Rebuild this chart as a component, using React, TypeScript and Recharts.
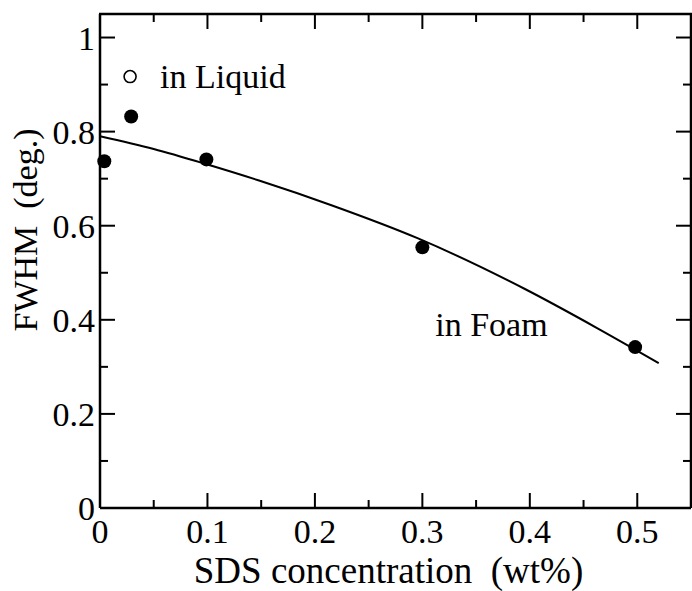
import React from 'react';
import { ComposedChart, Line, Scatter, XAxis, YAxis, ReferenceDot } from 'recharts';

const FONT = "'Liberation Serif', 'Times New Roman', Times, serif";

// axis ticks (minor + labelled)
const X_TICKS = [0, 0.05, 0.1, 0.15, 0.2, 0.25, 0.3, 0.35, 0.4, 0.45, 0.5];
const X_LABELED = [0, 0.1, 0.2, 0.3, 0.4, 0.5];
const Y_TICKS = [0, 0.1, 0.2, 0.3, 0.4, 0.5, 0.6, 0.7, 0.8, 0.9, 1];
const Y_LABELED = [0, 0.2, 0.4, 0.6, 0.8, 1];
const X_MAX = 0.55;
const Y_MAX = 1.05;

// measured points, in foam (filled)
const FOAM_SDS = [0.004, 0.029, 0.099, 0.3, 0.498];
const FOAM_FWHM = [0.737, 0.832, 0.741, 0.554, 0.342];

// in liquid (open marker)
const LIQUID_SDS = [0.028];
const LIQUID_FWHM = [0.917];

// fitted curve
const FIT_SDS = [0, 0.05, 0.1, 0.148, 0.216, 0.296, 0.395, 0.463, 0.52];
const FIT_FWHM = [0.79, 0.763, 0.73, 0.696, 0.643, 0.573, 0.466, 0.382, 0.308];

const FOAM_LABEL = { x: 0.312, y: 0.39, text: 'in Foam' };

const foamData = FOAM_SDS.map((x, i) => ({ x, y: FOAM_FWHM[i] }));
const liquidData = LIQUID_SDS.map((x, i) => ({ x, y: LIQUID_FWHM[i] }));
const fitData = FIT_SDS.map((x, i) => ({ x, y: FIT_FWHM[i] }));

// chart box
const W = 692;
const H = 591;
const TOP = 14;
const LEFT_W = 100;
const RIGHT_W = 1;
const BOTTOM_H = 83;
const PLOT_W = W - LEFT_W - RIGHT_W;
const PLOT_H = H - TOP - BOTTOM_H;

const txt = { fontFamily: FONT, whiteSpace: 'pre' as const };

const isIn = (list: number[], v: number) => list.some(m => Math.abs(m - v) < 1e-9);

// bottom ticks also draw the matching stub on the top frame
const BottomTick = (props: any) => {
  const { x, y, payload } = props;
  const major = isIn(X_LABELED, payload.value);
  const len = major ? 15 : 8;
  return (
    <g>
      <line x1={x} y1={y} x2={x} y2={y - len} stroke="#000" strokeWidth={2} />
      <line x1={x} y1={y - PLOT_H} x2={x} y2={y - PLOT_H + len} stroke="#000" strokeWidth={2} />
      {major && (
        <text x={x} y={y + 35} textAnchor="middle" style={txt} fontSize={34} fill="#000">
          {payload.value}
        </text>
      )}
    </g>
  );
};

const LeftTick = (props: any) => {
  const { x, y, payload } = props;
  const major = isIn(Y_LABELED, payload.value);
  return (
    <g>
      <line x1={x} y1={y} x2={x + (major ? 15 : 8)} y2={y} stroke="#000" strokeWidth={2} />
      {major && (
        <text x={x - 5} y={y + 12} textAnchor="end" style={txt} fontSize={34} fill="#000">
          {payload.value}
        </text>
      )}
    </g>
  );
};

const RightTick = (props: any) => {
  const { x, y, payload } = props;
  const major = isIn(Y_LABELED, payload.value);
  return <line x1={x} y1={y} x2={x - (major ? 15 : 8)} y2={y} stroke="#000" strokeWidth={2} />;
};

const XTitle = (props: any) => {
  const vb = props.viewBox;
  return (
    <text
      x={vb.x + vb.width / 2 - 7}
      y={vb.y + 75}
      textAnchor="middle"
      style={txt}
      fontSize={37}
      fill="#000"
    >
      SDS concentration  (wt%)
    </text>
  );
};

// y title, plus the top frame line along the plot's upper edge
const YTitle = (props: any) => {
  const vb = props.viewBox || { x: 0, y: TOP, width: LEFT_W };
  const left = vb.x + vb.width;
  return (
    <g>
      <line x1={left - 1} y1={vb.y} x2={left + PLOT_W + 1} y2={vb.y} stroke="#000" strokeWidth={2.5} />
      <text
        x={37}
        y={230}
        transform="rotate(-90 37 230)"
        textAnchor="middle"
        style={txt}
        fontSize={34}
        fill="#000"
      >
        FWHM  (deg.)
      </text>
    </g>
  );
};

const FilledDot = (p: any) => <circle cx={p.cx} cy={p.cy} r={7} fill="#000" />;
const NoDot = () => <g />;

const OpenDot = (p: any) => (
  <g>
    <circle cx={p.cx} cy={p.cy} r={6} fill="#fff" stroke="#000" strokeWidth={1.6} />
    <text x={p.cx + 30} y={p.cy + 11} style={txt} fontSize={34} fill="#000">
      in Liquid
    </text>
  </g>
);

const FoamText = (p: any) => (
  <text x={p.cx} y={p.cy + 11} style={txt} fontSize={34} fill="#000">
    {FOAM_LABEL.text}
  </text>
);

const axisLine = { stroke: '#000', strokeWidth: 2.5 };

export default function App() {
  return (
    <div style={{ position: 'absolute', left: 0, top: 0, width: W, height: H, background: '#fff' }}>
      <ComposedChart width={W} height={H} margin={{ top: TOP, right: 0, bottom: 0, left: 0 }}>
        <XAxis
          xAxisId={0}
          dataKey="x"
          type="number"
          domain={[0, X_MAX]}
          ticks={X_TICKS}
          interval={0}
          tickSize={0}
          tickMargin={0}
          tickLine={false}
          axisLine={axisLine}
          tick={<BottomTick />}
          height={BOTTOM_H}
          label={<XTitle />}
        />
        <YAxis
          yAxisId={0}
          dataKey="y"
          type="number"
          domain={[0, Y_MAX]}
          ticks={Y_TICKS}
          interval={0}
          tickSize={0}
          tickMargin={0}
          tickLine={false}
          axisLine={axisLine}
          tick={<LeftTick />}
          width={LEFT_W}
          label={<YTitle />}
        />
        <YAxis
          yAxisId={1}
          orientation="right"
          dataKey="y"
          type="number"
          domain={[0, Y_MAX]}
          ticks={Y_TICKS}
          interval={0}
          tickSize={0}
          tickMargin={0}
          tickLine={false}
          axisLine={axisLine}
          tick={<RightTick />}
          width={RIGHT_W}
        />
        <Line
          data={fitData}
          dataKey="y"
          type="monotone"
          stroke="#000"
          strokeWidth={2}
          dot={false}
          activeDot={false}
          isAnimationActive={false}
        />
        <Scatter data={foamData} dataKey="y" shape={<FilledDot />} isAnimationActive={false} />
        <Scatter data={liquidData} dataKey="y" shape={<OpenDot />} isAnimationActive={false} />
        {/* invisible twin so the right frame axis gets drawn */}
        <Scatter data={foamData} dataKey="y" yAxisId={1} shape={<NoDot />} isAnimationActive={false} />
        <ReferenceDot x={FOAM_LABEL.x} y={FOAM_LABEL.y} r={0} shape={<FoamText />} />
      </ComposedChart>
    </div>
  );
}
